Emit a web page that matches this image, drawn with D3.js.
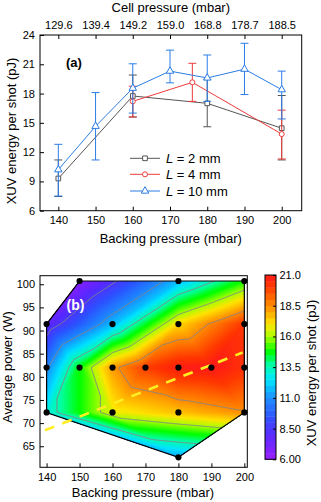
<!DOCTYPE html>
<html>
<head>
<meta charset="utf-8">
<script src="https://d3js.org/d3.v7.min.js"></script>
<style>
  body { margin: 0; background: #fff; }
  svg { display: block; font-family: "Liberation Sans", Arial, sans-serif; }
</style>
</head>
<body>
<svg id="chart" width="321" height="502"></svg>
<script>
// ---------------- panel (a) data ----------------
var backingTicks = [140, 150, 160, 170, 180, 190, 200];
var cellLabels = ['129.6', '139.4', '149.2', '159.0', '168.8', '178.7', '188.5'];
var energyTicks = [6, 9, 12, 15, 18, 21, 24];

// L = 2 mm
var l2X = [140, 160, 180, 200];
var l2Y = [9.3, 17.75, 17.0, 14.45];
var l2Lo = [7.45, 15.6, 14.6, 11.2];
var l2Hi = [11.2, 19.9, 19.45, 17.8];

// L = 4 mm
var l4X = [160, 176, 200];
var l4Y = [17.2, 19.15, 13.85];
var l4Lo = [15.6, 17.2, 11.3];
var l4Hi = [18.75, 21.1, 16.3];

// L = 10 mm
var l10X = [140, 150, 160, 170, 180, 190, 200];
var l10Y = [10.2, 14.65, 18.55, 20.3, 19.6, 20.5, 18.4];
var l10Lo = [7.5, 11.2, 16.0, 19.1, 17.2, 17.9, 15.4];
var l10Hi = [12.8, 18.1, 21.05, 22.45, 21.95, 23.15, 20.3];

var seriesNames = ['2 mm', '4 mm', '10 mm'];
var seriesColors = ['#555555', '#ee3b3b', '#2b7de6'];

// ---------------- panel (b) data ----------------
var powerTicks = [65, 70, 75, 80, 85, 90, 95, 100];
var mapX = [150, 180, 200, 140, 160, 180, 200, 140, 150, 160, 170, 180, 190, 200, 140, 160, 180, 200, 180];
var mapY = [100.7, 100.7, 100.7, 91.4, 91.4, 91.4, 91.4, 82, 82, 82, 82, 82, 82, 82, 72.3, 72.3, 72.3, 72.3, 62.6];
var mapZ = [6.5, 11.8, 14.9, 7.6, 11.8, 17.2, 20.1, 10.8, 14.8, 18.2, 19.9, 20.8, 21.0, 20.3, 12.9, 16.7, 17.6, 18.4, 11.4];
var lineLevels = [8.5, 11, 13.5, 16, 18.5];
var fitX = [139.5, 199.5];
var fitY = [68.45, 85.25];

var cbTicks = [6, 8.5, 11, 13.5, 16, 18.5, 21];
var cbLabels = ['6.00', '8.50', '11.0', '13.5', '16.0', '18.5', '21.0'];
var cbStops = [6, 8, 9.5, 11, 12.5, 13.7, 14.8, 16, 17, 18.5, 20, 21];
var cbColors = ['#9a1eff', '#5a2cff', '#2f55ff', '#1e90ff', '#00e5ff', '#00ffa8', '#00ff00',
                '#a8ff00', '#ffe600', '#ff8c00', '#ff3c00', '#ff1a1a'];

var svg = d3.select('#chart');
var color = d3.scaleLinear().domain(cbStops).range(cbColors).clamp(true);

function styleAxis(g) {
  g.select('.domain').remove();
  g.selectAll('line').attr('stroke', '#000');
  g.selectAll('text').attr('fill', '#000').style('font-size', '11px');
}

// ================= panel (a) =================
var xA = d3.scaleLinear().domain([135.08, 205.37]).range([40, 301.7]);
var yA = d3.scaleLinear().domain([6, 24]).range([210.7, 35]);

svg.append('g').attr('transform', 'translate(0,' + yA.range()[0] + ')')
  .call(d3.axisBottom(xA).tickValues(backingTicks).tickSize(-4).tickPadding(5.5))
  .call(styleAxis);

svg.append('g').attr('transform', 'translate(0,' + yA.range()[1] + ')')
  .call(d3.axisTop(xA).tickValues(backingTicks).tickSize(-4).tickPadding(6)
    .tickFormat(function(d, i) { return cellLabels[i]; }))
  .call(styleAxis);

svg.append('g').attr('transform', 'translate(' + xA.range()[0] + ',0)')
  .call(d3.axisLeft(yA).tickValues(energyTicks).tickSize(-4).tickPadding(5))
  .call(styleAxis);

svg.append('rect')
  .attr('x', xA.range()[0]).attr('y', yA.range()[1])
  .attr('width', xA.range()[1] - xA.range()[0])
  .attr('height', yA.range()[0] - yA.range()[1])
  .attr('fill', 'none').attr('stroke', '#000');

var seriesA = [
  {x: l2X, y: l2Y, lo: l2Lo, hi: l2Hi, sym: d3.symbolSquare, size: 22},
  {x: l4X, y: l4Y, lo: l4Lo, hi: l4Hi, sym: d3.symbolCircle, size: 20},
  {x: l10X, y: l10Y, lo: l10Lo, hi: l10Hi, sym: d3.symbolTriangle, size: 24}
];

seriesA.forEach(function(s, k) {
  var c = seriesColors[k];
  var pts = s.x.map(function(v, i) { return {x: v, y: s.y[i], lo: s.lo[i], hi: s.hi[i]}; });
  var g = svg.append('g');

  // error bars
  var eb = g.selectAll('g.eb').data(pts).enter().append('g')
    .attr('stroke', c).attr('stroke-width', 1);
  eb.append('line')
    .attr('x1', function(d) { return xA(d.x); }).attr('x2', function(d) { return xA(d.x); })
    .attr('y1', function(d) { return yA(d.lo); }).attr('y2', function(d) { return yA(d.hi); });
  eb.append('line')
    .attr('x1', function(d) { return xA(d.x) - 4; }).attr('x2', function(d) { return xA(d.x) + 4; })
    .attr('y1', function(d) { return yA(d.lo); }).attr('y2', function(d) { return yA(d.lo); });
  eb.append('line')
    .attr('x1', function(d) { return xA(d.x) - 4; }).attr('x2', function(d) { return xA(d.x) + 4; })
    .attr('y1', function(d) { return yA(d.hi); }).attr('y2', function(d) { return yA(d.hi); });

  g.append('path').datum(pts)
    .attr('fill', 'none').attr('stroke', c).attr('stroke-width', 1)
    .attr('d', d3.line().x(function(d) { return xA(d.x); }).y(function(d) { return yA(d.y); }));

  g.selectAll('path.m').data(pts).enter().append('path')
    .attr('d', d3.symbol().type(s.sym).size(s.size))
    .attr('transform', function(d) { return 'translate(' + xA(d.x) + ',' + yA(d.y) + ')'; })
    .attr('fill', '#fff').attr('stroke', c).attr('stroke-width', 1);

  // legend entry
  var ly = [158.3, 174.3, 191][k];
  var lg = svg.append('g');
  lg.append('line').attr('x1', 130).attr('x2', 160).attr('y1', ly).attr('y2', ly)
    .attr('stroke', c).attr('stroke-width', 1);
  lg.append('path').attr('d', d3.symbol().type(s.sym).size(s.size))
    .attr('transform', 'translate(145,' + ly + ')')
    .attr('fill', '#fff').attr('stroke', c);
  var t = lg.append('text').attr('x', 166).attr('y', ly + 4.6).style('font-size', '13px');
  t.append('tspan').style('font-style', 'italic').text('L');
  t.append('tspan').text(' = ' + seriesNames[k]);
});

svg.append('text').attr('x', 66).attr('y', 67).style('font-size', '13px')
  .style('font-weight', 'bold').text('(a)');

svg.append('text').attr('x', 170.8).attr('y', 12).attr('text-anchor', 'middle')
  .style('font-size', '13px').text('Cell pressure (mbar)');
svg.append('text').attr('x', 170.8).attr('y', 242.5).attr('text-anchor', 'middle')
  .style('font-size', '13px').text('Backing pressure (mbar)');
svg.append('text').attr('transform', 'translate(16,131) rotate(-90)').attr('text-anchor', 'middle')
  .style('font-size', '13px').text('XUV energy per shot (pJ)');

// ================= panel (b) =================
var xB = d3.scaleLinear().domain([138, 200.9]).range([40, 247.3]);
var yB = d3.scaleLinear().domain([60.45, 101.85]).range([467.3, 275.7]);
var x0 = xB.range()[0], y0 = yB.range()[1];
var W = Math.round(xB.range()[1] - x0), H = Math.round(yB.range()[0] - y0);

// measured points in local pixel coordinates
var pts = mapX.map(function(v, i) { return [xB(v) - x0, yB(mapY[i]) - y0]; });
var delaunay = d3.Delaunay.from(pts);
var tri = delaunay.triangles;
var hull = delaunay.hullPolygon();

// linear interpolation over the triangulation (extrapolated outside, then clipped)
var grid = new Float64Array(W * H);
for (var j = 0; j < H; j++) {
  for (var i = 0; i < W; i++) {
    var px = i + 0.5, py = j + 0.5, best = -Infinity, val = 0;
    for (var t = 0; t < tri.length; t += 3) {
      var a = pts[tri[t]], b = pts[tri[t + 1]], c = pts[tri[t + 2]];
      var det = (b[1] - c[1]) * (a[0] - c[0]) + (c[0] - b[0]) * (a[1] - c[1]);
      var l1 = ((b[1] - c[1]) * (px - c[0]) + (c[0] - b[0]) * (py - c[1])) / det;
      var l2 = ((c[1] - a[1]) * (px - c[0]) + (a[0] - c[0]) * (py - c[1])) / det;
      var l3 = 1 - l1 - l2;
      var m = Math.min(l1, l2, l3);
      if (m > best) {
        best = m;
        val = l1 * mapZ[tri[t]] + l2 * mapZ[tri[t + 1]] + l3 * mapZ[tri[t + 2]];
      }
      if (m >= 0) break;
    }
    grid[j * W + i] = val;
  }
}

var gB = svg.append('g').attr('transform', 'translate(' + x0 + ',' + y0 + ')');
gB.append('clipPath').attr('id', 'hullClip')
  .append('path').attr('d', 'M' + hull.join('L') + 'Z');

var fillLevels = d3.range(6, 21.001, 0.1);
var filled = d3.contours().size([W, H]).thresholds(fillLevels)(grid);
var path = d3.geoPath();
var body = gB.append('g').attr('clip-path', 'url(#hullClip)');
body.append('path').attr('d', 'M' + hull.join('L') + 'Z').attr('fill', color(6));
body.selectAll('path.band').data(filled).enter().append('path')
  .attr('d', path)
  .attr('fill', function(d) { return color(d.value + 0.05); })
  .attr('stroke', function(d) { return color(d.value + 0.05); })
  .attr('stroke-width', 0.3);

var lines = d3.contours().size([W, H]).thresholds(lineLevels)(grid);
body.selectAll('path.iso').data(lines).enter().append('path')
  .attr('d', path).attr('fill', 'none').attr('stroke', '#858585').attr('stroke-width', 1);

gB.append('path').attr('d', 'M' + hull.join('L') + 'Z')
  .attr('fill', 'none').attr('stroke', '#000').attr('stroke-width', 1.2);

// optimum line
svg.append('line')
  .attr('x1', xB(fitX[0])).attr('y1', yB(fitY[0]))
  .attr('x2', xB(fitX[1])).attr('y2', yB(fitY[1]))
  .attr('stroke', '#ffee22').attr('stroke-width', 2.6)
  .attr('stroke-dasharray', '10,8.6');

svg.append('g').selectAll('circle').data(mapX).enter().append('circle')
  .attr('cx', function(d) { return xB(d); })
  .attr('cy', function(d, i) { return yB(mapY[i]); })
  .attr('r', 3.1).attr('fill', '#000');

svg.append('g').attr('transform', 'translate(0,' + yB.range()[0] + ')')
  .call(d3.axisBottom(xB).tickValues(backingTicks).tickSize(-4).tickPadding(6))
  .call(styleAxis);
svg.append('g').attr('transform', 'translate(' + x0 + ',0)')
  .call(d3.axisLeft(yB).tickValues(powerTicks).tickSize(-4).tickPadding(5))
  .call(styleAxis);

svg.append('rect').attr('x', x0).attr('y', y0).attr('width', xB.range()[1] - x0)
  .attr('height', yB.range()[0] - y0).attr('fill', 'none').attr('stroke', '#000');

svg.append('text').attr('x', 66.5).attr('y', 309.5).attr('fill', '#fff')
  .style('font-size', '14px').style('font-weight', 'bold').text('(b)');

svg.append('text').attr('x', 143).attr('y', 497).attr('text-anchor', 'middle')
  .style('font-size', '13px').text('Backing pressure (mbar)');
svg.append('text').attr('transform', 'translate(12,367) rotate(-90)').attr('text-anchor', 'middle')
  .style('font-size', '13px').text('Average power (W)');

// colour bar
var cb = d3.scaleLinear().domain([6, 21]).range([459.3, 275]);
var cbSteps = d3.range(6, 21, 0.5);
svg.append('g').selectAll('rect').data(cbSteps).enter().append('rect')
  .attr('x', 265).attr('width', 11)
  .attr('y', function(d) { return cb(d + 0.5); })
  .attr('height', function(d) { return cb(d) - cb(d + 0.5) + 0.4; })
  .attr('fill', function(d) { return color(d + 0.25); });
svg.append('rect').attr('x', 265).attr('y', 275).attr('width', 11).attr('height', 184.3)
  .attr('fill', 'none').attr('stroke', '#000');
svg.append('g').attr('transform', 'translate(276,0)')
  .call(d3.axisRight(cb).tickValues(cbTicks).tickSize(-3).tickPadding(3.5)
    .tickFormat(function(d, i) { return cbLabels[i]; }))
  .call(styleAxis);
svg.append('text').attr('transform', 'translate(316,373) rotate(-90)').attr('text-anchor', 'middle')
  .style('font-size', '13px').text('XUV energy per shot (pJ)');
</script>
</body>
</html>
